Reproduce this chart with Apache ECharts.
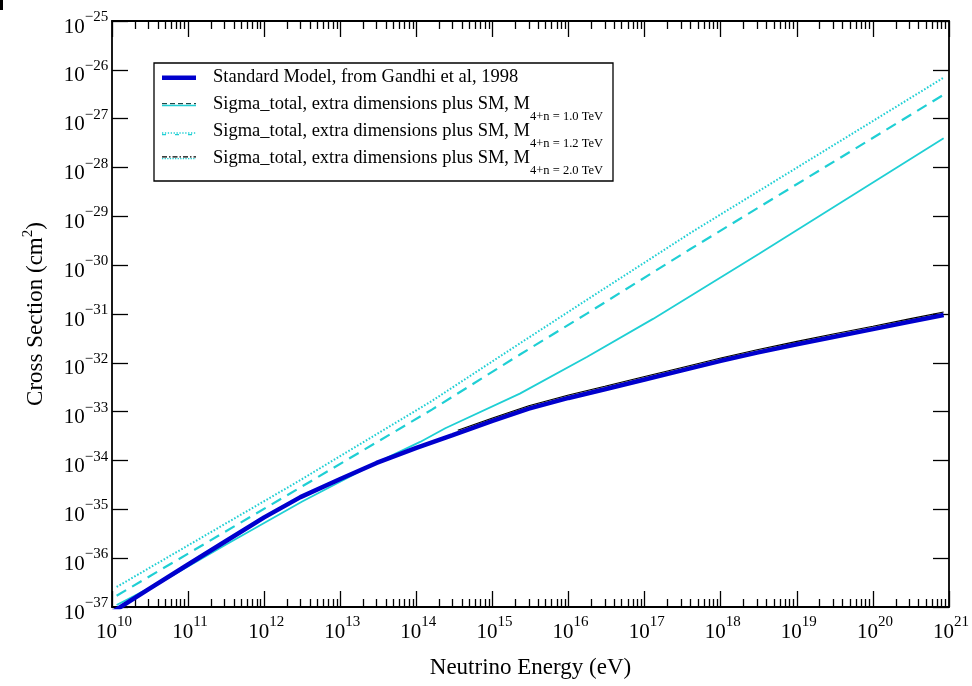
<!DOCTYPE html>
<html>
<head>
<meta charset="utf-8">
<title>Neutrino cross section</title>
<script src="https://cdn.jsdelivr.net/npm/echarts@6.0.0/dist/echarts.min.js"></script>
<style>
  html, body { margin: 0; padding: 0; background: #ffffff; }
  #chart { width: 972px; height: 686px; }
</style>
</head>
<body>
<div id="chart"></div>
<script>
// Neutrino energy (eV) against total cross section (cm^2), drawn on decade axes.

// Standard Model, Gandhi et al 1998
const smEnergy = [1e10, 3e10, 1e11, 3e11, 1e12, 3e12, 1e13, 3e13, 1e14, 3e14, 1e15, 3e15, 1e16, 3e16, 1e17, 3e17, 1e18, 3e18, 1e19, 3e19, 1e20, 3e20, 8.5e20];
const smSigma = [7.76e-38, 2.29e-37, 7.41e-37, 2.14e-36, 6.84e-36, 1.78e-35, 4.17e-35, 8.91e-35, 1.82e-34, 3.31e-34, 6.46e-34, 1.15e-33, 1.91e-33, 2.88e-33, 4.57e-33, 6.92e-33, 1.10e-32, 1.62e-32, 2.40e-32, 3.39e-32, 4.90e-32, 6.92e-32, 9.55e-32];

// Thin black trace running just above the SM curve
const blackEnergy = [3.5e14, 1e15, 3e15, 1e16, 3e16, 1e17, 3e17, 1e18, 3e18, 1e19, 3e19, 1e20, 3e20, 8.5e20];
const blackSigma = [4.17e-34, 7.41e-34, 1.32e-33, 2.19e-33, 3.31e-33, 5.25e-33, 7.94e-33, 1.26e-32, 1.86e-32, 2.75e-32, 3.89e-32, 5.62e-32, 7.94e-32, 1.10e-31];

// Sigma_total, extra dimensions plus SM (dotted cyan)
const dottedEnergy = [1.15e10, 3e12, 1.6e14, 2.3e15, 1.74e16, 4e17, 8.5e20];
const dottedSigma = [2.57e-37, 3.98e-35, 1.66e-33, 2.51e-32, 1.95e-31, 4.57e-30, 6.92e-27];

// Sigma_total, extra dimensions plus SM (dashed cyan)
const dashedEnergy = [1.15e10, 3e12, 1.6e14, 2.3e15, 1.74e16, 4e17, 8.5e20];
const dashedSigma = [1.70e-37, 2.82e-35, 1.10e-33, 1.48e-32, 1.02e-31, 2.14e-30, 3.09e-27];

// Sigma_total, extra dimensions plus SM (solid cyan)
const solidEnergy = [1.15e10, 4.27e10, 3.16e11, 3.16e12, 2.88e13, 1.12e14, 2.4e14, 2.29e15, 1.74e16, 1.29e17, 3.16e18, 8.5e20];
const solidSigma = [1.10e-37, 3.16e-37, 1.91e-36, 1.45e-35, 8.71e-35, 2.40e-34, 4.57e-34, 2.34e-33, 1.32e-32, 7.94e-32, 1.70e-30, 3.98e-28];

// Axis decades (exponents of ten) and minor tick multipliers
const xDecades = [10, 11, 12, 13, 14, 15, 16, 17, 18, 19, 20, 21];
const yDecades = [-37, -36, -35, -34, -33, -32, -31, -30, -29, -28, -27, -26, -25];
const minorMultipliers = [2, 3, 4, 5, 6, 7, 8, 9];

// Legend
const legendTexts = [
  '{t|Standard Model, from Gandhi et al, 1998}',
  '{t|Sigma_total, extra dimensions plus SM, M}{s|4+n = 1.0 TeV}',
  '{t|Sigma_total, extra dimensions plus SM, M}{s|4+n = 1.2 TeV}',
  '{t|Sigma_total, extra dimensions plus SM, M}{s|4+n = 2.0 TeV}'
];

const FONT = '"Liberation Serif", "Times New Roman", "DejaVu Serif", serif';
const CYAN = '#1fcfd4';
const BLUE = '#0000cd';

// Minor tick positions in decade units (log10 of 2x, 3x, ... 9x each decade)
const xMinorTicks = [];
for (let i = 0; i < xDecades.length - 1; i++) {
  for (const m of minorMultipliers) xMinorTicks.push(xDecades[i] + Math.log10(m));
}

// Points placed on the decade axes: log10 of energy and of cross section
function pairs(xs, ys) { return xs.map((x, i) => [Math.log10(x), Math.log10(ys[i])]); }

function powerLabel(v) {
  const p = Math.round(v);
  return '{b|10}{s|' + (p < 0 ? '\u2212' + (-p) : String(p)) + '}';
}

// Power-of-ten label: base sits on the bottom of a tall line, exponent at its top
function powerRich(lineHeight) {
  return {
    b: { fontFamily: FONT, fontSize: 21, lineHeight: lineHeight, verticalAlign: 'bottom', color: '#000' },
    s: { fontFamily: FONT, fontSize: 15, lineHeight: 15, verticalAlign: 'top', color: '#000' }
  };
}

const xRange = { type: 'value', min: xDecades[0], max: xDecades[xDecades.length - 1], interval: 1 };
const yRange = { type: 'value', min: yDecades[0], max: yDecades[yDecades.length - 1], interval: 1 };
const axisLineStyle = { show: true, onZero: false, lineStyle: { color: '#000', width: 1.8 } };
const noSplit = { show: false };

function xAxisDef(position, minor, withLine, withLabel) {
  const tick = { show: true, inside: true, length: minor ? 8 : 16, lineStyle: { color: '#000', width: 1.3 } };
  if (minor) tick.customValues = xMinorTicks;
  return Object.assign({}, xRange, {
    position: position,
    axisLine: withLine ? axisLineStyle : { show: false },
    axisTick: tick,
    axisLabel: withLabel ? {
      show: true,
      formatter: powerLabel,
      margin: 7.5,
      padding: [0, 0, 0, 4],
      rich: powerRich(28.5)
    } : { show: false },
    splitLine: noSplit,
    minorTick: { show: false },
    minorSplitLine: { show: false }
  });
}

function yAxisDef(position, withLabel) {
  return Object.assign({}, yRange, {
    position: position,
    axisLine: axisLineStyle,
    axisTick: { show: true, inside: true, length: 16, lineStyle: { color: '#000', width: 1.3 } },
    axisLabel: withLabel ? {
      show: true,
      formatter: powerLabel,
      margin: 3.7,
      padding: [5.2, 0, 0, 0],
      rich: powerRich(28)
    } : { show: false },
    splitLine: noSplit,
    minorTick: { show: false },
    minorSplitLine: { show: false }
  });
}

const xAxes = [
  xAxisDef('bottom', false, true, true),
  xAxisDef('bottom', true, false, false),
  xAxisDef('top', false, true, false),
  xAxisDef('top', true, false, false)
];
Object.assign(xAxes[0], {
  name: 'Neutrino Energy (eV)',
  nameLocation: 'middle',
  nameGap: 49,
  nameMoveOverlap: false,
  nameTextStyle: { fontFamily: FONT, fontSize: 23, color: '#000' }
});

const yAxes = [yAxisDef('left', true), yAxisDef('right', false)];
Object.assign(yAxes[0], {
  name: '{t|Cross Section (cm}{s|2}{t|)}',
  nameLocation: 'middle',
  nameGap: 65,
  nameMoveOverlap: false,
  nameTextStyle: {
    fontFamily: FONT, fontSize: 23, color: '#000',
    rich: {
      t: { fontFamily: FONT, fontSize: 23, lineHeight: 26, verticalAlign: 'bottom', color: '#000' },
      s: { fontFamily: FONT, fontSize: 15, lineHeight: 15, verticalAlign: 'top', color: '#000' }
    }
  }
});

const lineBase = { type: 'line', symbol: 'none', showSymbol: false, clip: true, xAxisIndex: 0, yAxisIndex: 0, silent: true };

const series = [
  Object.assign({}, lineBase, { name: 'extra dimensions, solid', data: pairs(solidEnergy, solidSigma), lineStyle: { color: CYAN, width: 1.8 }, z: 2 }),
  Object.assign({}, lineBase, { name: 'extra dimensions, dashed', data: pairs(dashedEnergy, dashedSigma), lineStyle: { color: CYAN, width: 2.2, type: [11, 7] }, z: 2 }),
  Object.assign({}, lineBase, { name: 'extra dimensions, dotted', data: pairs(dottedEnergy, dottedSigma), lineStyle: { color: CYAN, width: 2, type: [1.6, 1.8] }, z: 2 }),
  Object.assign({}, lineBase, { name: 'Standard Model', data: pairs(smEnergy, smSigma), lineStyle: { color: BLUE, width: 4.5 }, z: 3 }),
  Object.assign({}, lineBase, { name: 'black trace', data: pairs(blackEnergy, blackSigma), lineStyle: { color: '#000', width: 1.1 }, z: 4 })
];

// Legend box drawn as graphic elements
const legendRowY = [77, 104, 131, 158];
const legendRich = {
  t: { fontFamily: FONT, fontSize: 18.5, lineHeight: 28, verticalAlign: 'top', color: '#000' },
  s: { fontFamily: FONT, fontSize: 12.5, lineHeight: 12.5, verticalAlign: 'bottom', color: '#000' }
};
const legendGraphics = [
  { type: 'rect', shape: { x: 154, y: 63, width: 459, height: 118 }, style: { fill: '#fff', stroke: '#000', lineWidth: 1.3 }, z: 100 },
  { type: 'line', shape: { x1: 162, y1: 77.7, x2: 196, y2: 77.7 }, style: { stroke: BLUE, lineWidth: 4.5 }, z: 101 },
  { type: 'line', shape: { x1: 162, y1: 103.6, x2: 196, y2: 103.6 }, style: { stroke: '#1a4a4a', lineWidth: 1.4, lineDash: [5, 3] }, z: 101 },
  { type: 'line', shape: { x1: 162, y1: 105.5, x2: 196, y2: 105.5 }, style: { stroke: CYAN, lineWidth: 1.5 }, z: 101 },
  { type: 'line', shape: { x1: 162, y1: 133, x2: 196, y2: 133 }, style: { stroke: CYAN, lineWidth: 1.4, lineDash: [1.3, 1.6] }, z: 101 },
  { type: 'line', shape: { x1: 162, y1: 134.6, x2: 196, y2: 134.6 }, style: { stroke: CYAN, lineWidth: 1.2, lineDash: [4, 9] }, z: 101 },
  { type: 'line', shape: { x1: 162, y1: 156.8, x2: 196, y2: 156.8 }, style: { stroke: '#000', lineWidth: 1.2, lineDash: [5, 2, 1.5, 2] }, z: 101 },
  { type: 'line', shape: { x1: 162, y1: 158.6, x2: 196, y2: 158.6 }, style: { stroke: CYAN, lineWidth: 1.4, lineDash: [1.3, 1.3] }, z: 101 },
  // small mark in the top left corner
  { type: 'rect', shape: { x: 0, y: 0, width: 3, height: 10 }, style: { fill: '#000' }, z: 101 }
];
legendTexts.forEach((txt, i) => {
  legendGraphics.push({
    type: 'text', x: 213, y: legendRowY[i] + 4.75, z: 102,
    style: { text: txt, rich: legendRich, fill: '#000', font: '18.5px ' + FONT, textVerticalAlign: 'middle', verticalAlign: 'middle', textAlign: 'left', align: 'left' }
  });
});

const chart = echarts.init(document.getElementById('chart'), null, { renderer: 'canvas' });
chart.setOption({
  animation: false,
  backgroundColor: '#ffffff',
  grid: { left: 112, right: 23, top: 21, bottom: 79, containLabel: false, outerBoundsMode: 'none', show: false },
  xAxis: xAxes,
  yAxis: yAxes,
  series: series,
  graphic: { elements: legendGraphics }
});
</script>
</body>
</html>
